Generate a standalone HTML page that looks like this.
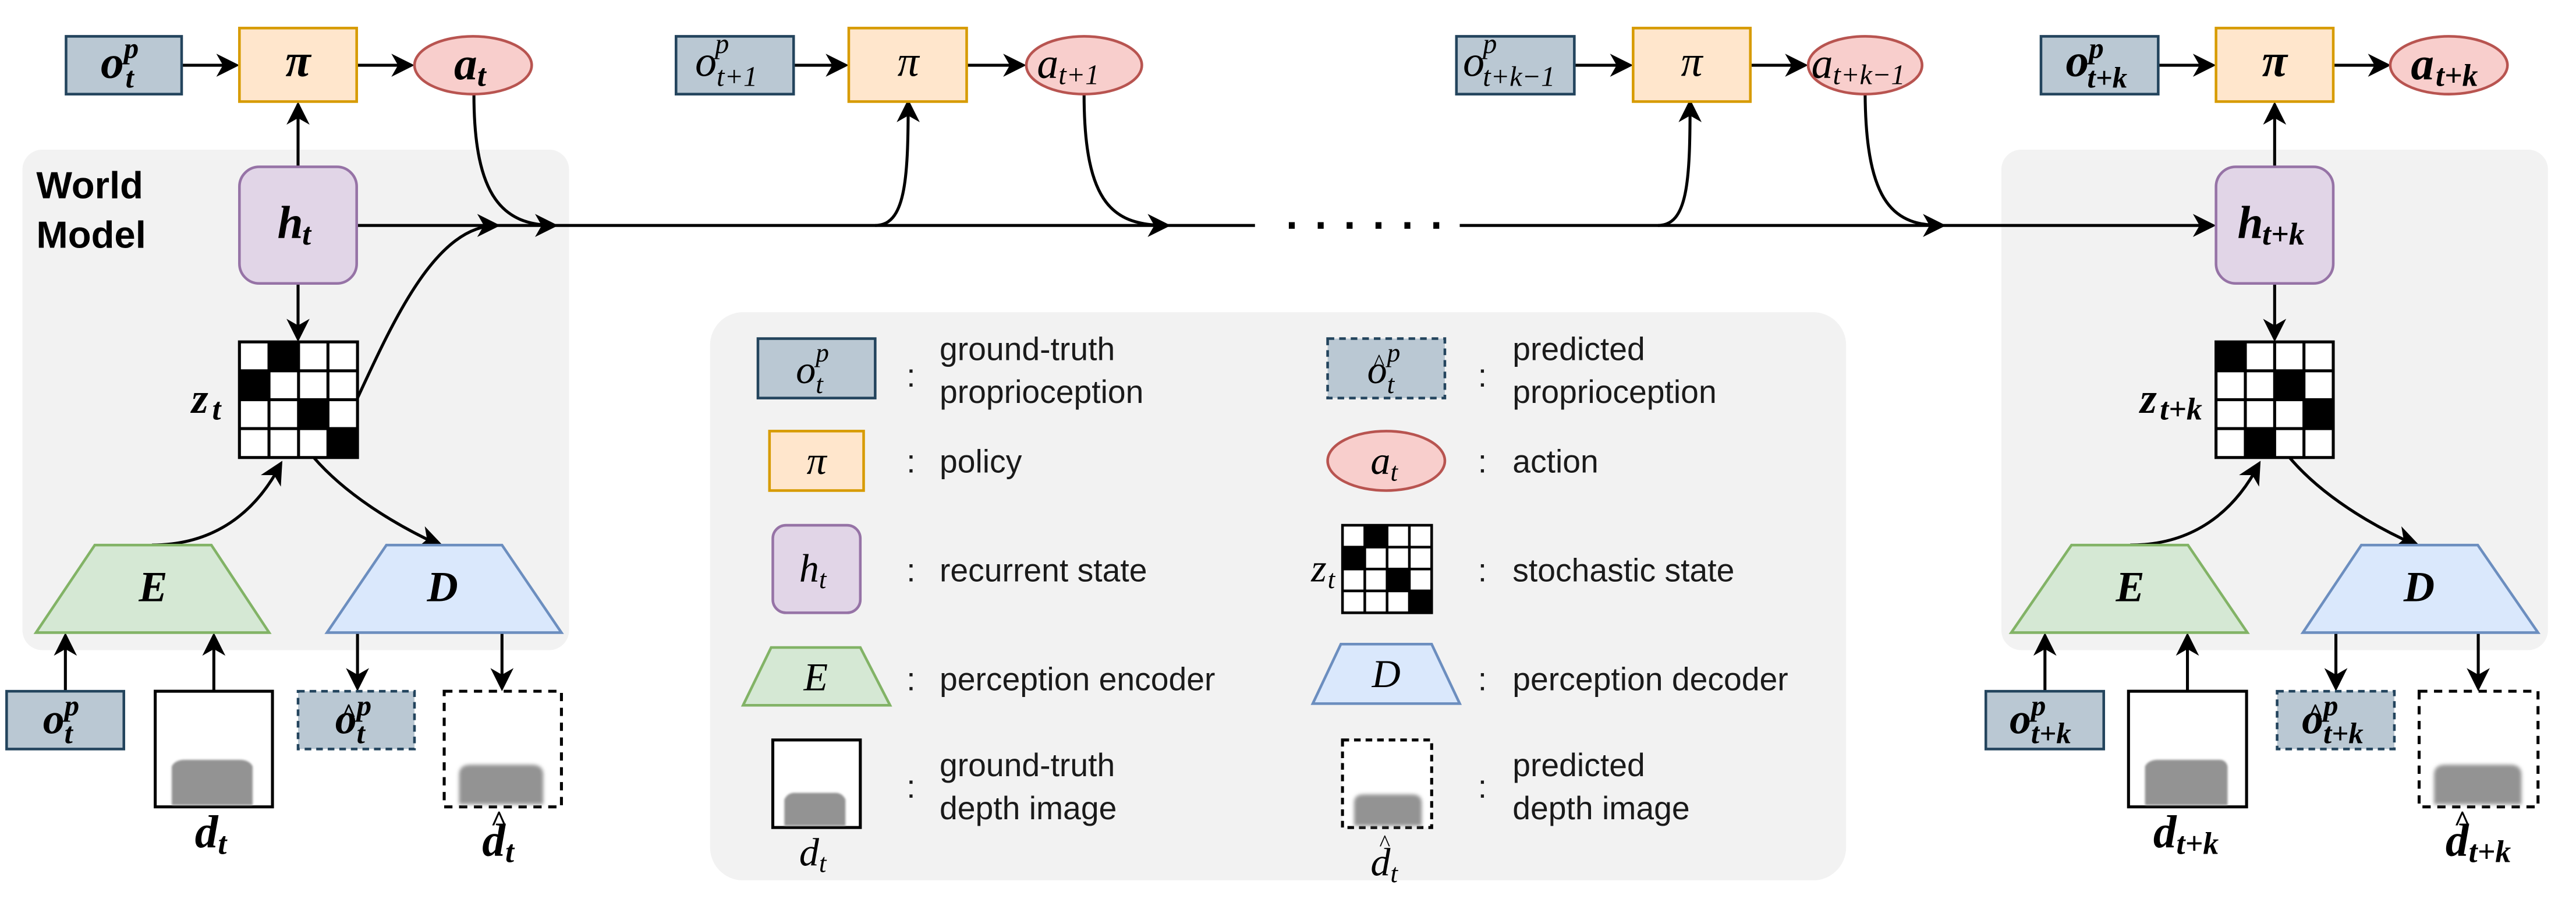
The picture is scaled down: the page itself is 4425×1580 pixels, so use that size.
<!DOCTYPE html>
<html><head><meta charset="utf-8"><style>
html,body{margin:0;padding:0;background:#fff;}
svg{display:block;}
.m{font-family:"Liberation Serif",serif;font-style:italic;}
.s{font-family:"Liberation Sans",sans-serif;fill:#1a1a1a;}
</style></head><body>
<svg width="4425" height="1580" viewBox="0 0 1560 557" preserveAspectRatio="none" xmlns="http://www.w3.org/2000/svg">
<defs>
<polygon id="ar" points="0,0 -14,-7 -10,0 -14,7" fill="#000"/>
<filter id="bl" x="-20%" y="-20%" width="140%" height="140%"><feGaussianBlur stdDeviation="0.7"/></filter>
<filter id="bl2" x="-20%" y="-20%" width="140%" height="140%"><feGaussianBlur stdDeviation="1.1"/></filter>
</defs>

<rect x="13.6" y="90.6" width="331" height="303" rx="12" fill="#f2f2f2"/>
<rect x="1212" y="90.6" width="331" height="303" rx="12" fill="#f2f2f2"/>
<rect x="430" y="189" width="688" height="344" rx="20" fill="#f2f2f2"/>

<text x="22" y="120" font-family="Liberation Sans,sans-serif" font-weight="bold" font-size="23">World</text>
<text x="22" y="150" font-family="Liberation Sans,sans-serif" font-weight="bold" font-size="23">Model</text>

<g stroke="#000" stroke-width="1.8" fill="none">
<line x1="216" y1="136.5" x2="760" y2="136.5"/>
<line x1="884" y1="136.5" x2="1340" y2="136.5"/>
<line x1="110" y1="39.5" x2="143" y2="39.5"/>
<line x1="216" y1="39.5" x2="249" y2="39.5"/>
<line x1="180.5" y1="101" x2="180.5" y2="63"/>
<line x1="180.5" y1="171.6" x2="180.5" y2="205"/>
<path d="M287,57 C287,120 305,136.5 336,136.5"/>
<path d="M216.5,241 C240,190 265,136.5 301,136.5"/>
<path d="M92,330 C130,330 155,310 170,281"/>
<path d="M190,277 C210,300 240,318 266,330"/>
<line x1="39.6" y1="418" x2="39.6" y2="385"/>
<line x1="129.5" y1="418" x2="129.5" y2="385"/>
<line x1="216.5" y1="383" x2="216.5" y2="416"/>
<line x1="304" y1="383" x2="304" y2="416"/>
<line x1="481" y1="39.5" x2="512" y2="39.5"/>
<line x1="585.5" y1="39.5" x2="619" y2="39.5"/>
<path d="M530,136.5 C548,136.5 550,110 550,62"/>
<path d="M656.5,57 C656.5,125 675,136.5 707,136.5"/>
<line x1="953.5" y1="39.5" x2="987" y2="39.5"/>
<line x1="1060" y1="39.5" x2="1093" y2="39.5"/>
<path d="M1004,136.5 C1022,136.5 1023.5,110 1023.5,62"/>
<path d="M1129.5,57 C1130,125 1148,136.5 1176,136.5"/>
<line x1="1307" y1="39.5" x2="1340" y2="39.5"/>
<line x1="1413" y1="39.5" x2="1446" y2="39.5"/>
<line x1="1377.5" y1="101" x2="1377.5" y2="63"/>
<line x1="1377.5" y1="171.6" x2="1377.5" y2="205"/>
<path d="M1290,330 C1328,330 1353,310 1368,281"/>
<path d="M1386.5,277 C1406,300 1436,318 1463,330"/>
<line x1="1238.4" y1="418" x2="1238.4" y2="385"/>
<line x1="1324.7" y1="418" x2="1324.7" y2="385"/>
<line x1="1414.6" y1="383" x2="1414.6" y2="416"/>
<line x1="1500.8" y1="383" x2="1500.8" y2="416"/>
</g>
<g fill="#000">
<rect x="780.5" y="134.5" width="3.6" height="4"/><rect x="798" y="134.5" width="3.6" height="4"/><rect x="815.5" y="134.5" width="3.6" height="4"/><rect x="833" y="134.5" width="3.6" height="4"/><rect x="850.5" y="134.5" width="3.6" height="4"/><rect x="868" y="134.5" width="3.6" height="4"/>
</g>
<use href="#ar" transform="translate(145,39.5)"/>
<use href="#ar" transform="translate(251,39.5)"/>
<use href="#ar" transform="translate(180.5,61.5) rotate(-90)"/>
<use href="#ar" transform="translate(180.5,207) rotate(90)"/>
<use href="#ar" transform="translate(303,136.5)"/>
<use href="#ar" transform="translate(338,136.5)"/>
<use href="#ar" transform="translate(171,279) rotate(-60)"/>
<use href="#ar" transform="translate(268,330) rotate(20)"/>
<use href="#ar" transform="translate(39.6,383) rotate(-90)"/>
<use href="#ar" transform="translate(129.5,383) rotate(-90)"/>
<use href="#ar" transform="translate(216.5,418.5) rotate(90)"/>
<use href="#ar" transform="translate(304,418.5) rotate(90)"/>
<use href="#ar" transform="translate(514,39.5)"/>
<use href="#ar" transform="translate(621.5,39.5)"/>
<use href="#ar" transform="translate(550,60) rotate(-90)"/>
<use href="#ar" transform="translate(709,136.5)"/>
<use href="#ar" transform="translate(989,39.5)"/>
<use href="#ar" transform="translate(1095,39.5)"/>
<use href="#ar" transform="translate(1023.5,60) rotate(-90)"/>
<use href="#ar" transform="translate(1178.5,136.5)"/>
<use href="#ar" transform="translate(1342,136.5)"/>
<use href="#ar" transform="translate(1342,39.5)"/>
<use href="#ar" transform="translate(1448,39.5)"/>
<use href="#ar" transform="translate(1377.5,61.5) rotate(-90)"/>
<use href="#ar" transform="translate(1377.5,207) rotate(90)"/>
<use href="#ar" transform="translate(1369,279) rotate(-60)"/>
<use href="#ar" transform="translate(1465,330) rotate(20)"/>
<use href="#ar" transform="translate(1238.4,383) rotate(-90)"/>
<use href="#ar" transform="translate(1324.7,383) rotate(-90)"/>
<use href="#ar" transform="translate(1414.6,418.5) rotate(90)"/>
<use href="#ar" transform="translate(1500.8,418.5) rotate(90)"/>

<g stroke-width="1.6">
<rect x="40" y="22" width="70" height="35" fill="#bac8d3" stroke="#23445d"/>
<rect x="145" y="17" width="71" height="44.5" fill="#ffe6cc" stroke="#d79b00"/>
<ellipse cx="286.5" cy="39.5" rx="35.5" ry="17.5" fill="#f8cecc" stroke="#b85450"/>
<rect x="145" y="101" width="71" height="70.6" rx="12" fill="#e1d5e7" stroke="#9673a6"/>
<polygon points="57.4,330 128,330 163,383 21.8,383" fill="#d5e8d4" stroke="#82b366"/>
<polygon points="234,330 304,330 340,383 198,383" fill="#dae8fc" stroke="#6c8ebf"/>
<rect x="4" y="418.5" width="71" height="35" fill="#bac8d3" stroke="#23445d"/>
<rect x="94" y="418.5" width="71" height="70" fill="#fff" stroke="#000" stroke-width="1.8"/>
<rect x="180.5" y="418.5" width="70.5" height="35" fill="#bac8d3" stroke="#23445d" stroke-dasharray="4,3"/>
<rect x="269" y="418.5" width="71" height="70" fill="#fff" stroke="#000" stroke-width="1.8" stroke-dasharray="5,4"/>
</g>
<path d="M104,487.5 V464 Q106,460 112,460 H145 Q151,460 153,464 V487.5 Z" fill="#939393" filter="url(#bl)"/>
<path d="M278,487 V469 Q278,463 285,463 H322 Q329,463 329,469 V487 Z" fill="#939393" filter="url(#bl2)"/>

<g stroke-width="1.6">
<rect x="409.4" y="22" width="71.2" height="35" fill="#bac8d3" stroke="#23445d"/>
<rect x="514" y="17" width="71.4" height="44.5" fill="#ffe6cc" stroke="#d79b00"/>
<ellipse cx="656.5" cy="39.5" rx="35" ry="17.5" fill="#f8cecc" stroke="#b85450"/>
<rect x="882" y="22" width="71.4" height="35" fill="#bac8d3" stroke="#23445d"/>
<rect x="989" y="17" width="71" height="44.5" fill="#ffe6cc" stroke="#d79b00"/>
<ellipse cx="1129.5" cy="39.5" rx="34.5" ry="17.5" fill="#f8cecc" stroke="#b85450"/>
</g>

<g stroke-width="1.6">
<rect x="1236" y="22" width="71" height="35" fill="#bac8d3" stroke="#23445d"/>
<rect x="1342" y="17" width="71" height="44.5" fill="#ffe6cc" stroke="#d79b00"/>
<ellipse cx="1483" cy="39.5" rx="35.5" ry="17.5" fill="#f8cecc" stroke="#b85450"/>
<rect x="1342" y="101" width="71" height="70.6" rx="12" fill="#e1d5e7" stroke="#9673a6"/>
<polygon points="1254.5,330 1325,330 1361,383 1218,383" fill="#d5e8d4" stroke="#82b366"/>
<polygon points="1430,330 1500.5,330 1537,383 1394.6,383" fill="#dae8fc" stroke="#6c8ebf"/>
<rect x="1202.6" y="418.5" width="71.4" height="35" fill="#bac8d3" stroke="#23445d"/>
<rect x="1289" y="418.5" width="71.5" height="70" fill="#fff" stroke="#000" stroke-width="1.8"/>
<rect x="1379" y="418.5" width="71" height="35" fill="#bac8d3" stroke="#23445d" stroke-dasharray="4,3"/>
<rect x="1465" y="418.5" width="72" height="70" fill="#fff" stroke="#000" stroke-width="1.8" stroke-dasharray="5,4"/>
</g>
<path d="M1299,487.5 V464 Q1301,460 1307,460 H1344 Q1348,460 1349,464 V487.5 Z" fill="#939393" filter="url(#bl)"/>
<path d="M1474,487 V469 Q1474,463 1481,463 H1520 Q1527,463 1527,469 V487 Z" fill="#939393" filter="url(#bl2)"/>

<g>
<rect x="145" y="207" width="71.5" height="70" fill="#fff"/>
<rect x="162.9" y="207" width="17.9" height="17.5"/>
<rect x="145" y="224.5" width="17.9" height="17.5"/>
<rect x="180.8" y="242" width="17.9" height="17.5"/>
<rect x="198.6" y="259.5" width="17.9" height="17.5"/>
<g stroke="#000" stroke-width="1.8" fill="none">
<rect x="145" y="207" width="71.5" height="70"/>
<path d="M162.9,207V277M180.8,207V277M198.6,207V277M145,224.5H216.5M145,242H216.5M145,259.5H216.5"/>
</g>
<rect x="1342" y="207" width="71" height="70" fill="#fff"/>
<rect x="1342" y="207" width="17.75" height="17.5"/>
<rect x="1377.5" y="224.5" width="17.75" height="17.5"/>
<rect x="1395.25" y="242" width="17.75" height="17.5"/>
<rect x="1359.75" y="259.5" width="17.75" height="17.5"/>
<g stroke="#000" stroke-width="1.8" fill="none">
<rect x="1342" y="207" width="71" height="70"/>
<path d="M1359.75,207V277M1377.5,207V277M1395.25,207V277M1342,224.5H1413M1342,242H1413M1342,259.5H1413"/>
</g>
</g>

<g class="m" font-weight="bold" fill="#000">
<text x="61" y="47" font-size="28">o</text><text x="75" y="35" font-size="18">p</text><text x="76" y="53" font-size="18">t</text>
<text x="180.5" y="46" font-size="28" text-anchor="middle">π</text>
<text x="275" y="48" font-size="28">a</text><text x="289" y="52" font-size="19">t</text>
<text x="168" y="144" font-size="28">h</text><text x="183" y="148" font-size="19">t</text>
<text x="116" y="250" font-size="26">z</text><text x="128.5" y="254" font-size="19">t</text>
<text x="92.7" y="364" font-size="26" text-anchor="middle">E</text>
<text x="268" y="364" font-size="26" text-anchor="middle">D</text>
<text x="26" y="444" font-size="26">o</text><text x="39" y="433" font-size="18">p</text><text x="39" y="450" font-size="18">t</text>
<text x="203" y="444" font-size="26">o</text><text x="211" y="437" font-size="16" text-anchor="middle">^</text><text x="216" y="433" font-size="18">p</text><text x="216" y="450" font-size="18">t</text>
<text x="118" y="513" font-size="28">d</text><text x="132" y="517" font-size="19">t</text>
<text x="292" y="518" font-size="28">d</text><text x="302" y="503" font-size="18" text-anchor="middle">^</text><text x="306" y="522" font-size="19">t</text>
</g>

<g class="m" fill="#000">
<text x="421" y="46" font-size="26">o</text><text x="433" y="32" font-size="17">p</text><text x="434" y="52" font-size="17">t+1</text>
<text x="550" y="46" font-size="26" text-anchor="middle">π</text>
<text x="628" y="47" font-size="26">a</text><text x="641" y="51" font-size="17">t+1</text>
<text x="886" y="46" font-size="26">o</text><text x="898" y="32" font-size="17">p</text><text x="898" y="52" font-size="17">t+k−1</text>
<text x="1024.5" y="46" font-size="26" text-anchor="middle">π</text>
<text x="1097" y="47" font-size="26">a</text><text x="1110" y="51" font-size="17">t+k−1</text>
</g>

<g class="m" font-weight="bold" fill="#000">
<text x="1251" y="46" font-size="28">o</text><text x="1265" y="35" font-size="18">p</text><text x="1264" y="53" font-size="18">t+k</text>
<text x="1377.5" y="46" font-size="28" text-anchor="middle">π</text>
<text x="1460" y="48" font-size="28">a</text><text x="1475" y="52" font-size="19">t+k</text>
<text x="1355" y="144" font-size="28">h</text><text x="1370" y="148" font-size="19">t+k</text>
<text x="1296" y="250" font-size="26">z</text><text x="1308" y="254" font-size="19">t+k</text>
<text x="1290" y="364" font-size="26" text-anchor="middle">E</text>
<text x="1465" y="364" font-size="26" text-anchor="middle">D</text>
<text x="1217" y="444" font-size="26">o</text><text x="1230" y="433" font-size="18">p</text><text x="1230" y="450" font-size="18">t+k</text>
<text x="1394" y="444" font-size="26">o</text><text x="1402" y="437" font-size="16" text-anchor="middle">^</text><text x="1407" y="433" font-size="18">p</text><text x="1407" y="450" font-size="18">t+k</text>
<text x="1304" y="513" font-size="28">d</text><text x="1318" y="517" font-size="19">t+k</text>
<text x="1481" y="518" font-size="28">d</text><text x="1491" y="503" font-size="18" text-anchor="middle">^</text><text x="1495" y="522" font-size="19">t+k</text>
</g>

<g stroke-width="1.6">
<rect x="459" y="205" width="71" height="36" fill="#bac8d3" stroke="#23445d"/>
<rect x="804" y="205" width="71" height="36" fill="#bac8d3" stroke="#23445d" stroke-dasharray="4,3"/>
<rect x="466" y="261" width="57" height="36" fill="#ffe6cc" stroke="#d79b00"/>
<ellipse cx="839.5" cy="279" rx="35.5" ry="18" fill="#f8cecc" stroke="#b85450"/>
<rect x="468" y="318" width="53" height="53" rx="8" fill="#e1d5e7" stroke="#9673a6"/>
<polygon points="467,392 521,392 539,427 450,427" fill="#d5e8d4" stroke="#82b366"/>
<polygon points="812,390 867,390 884,426 795,426" fill="#dae8fc" stroke="#6c8ebf"/>
<rect x="468" y="448" width="53" height="53" fill="#fff" stroke="#000" stroke-width="1.8"/>
<rect x="813" y="448" width="54" height="53" fill="#fff" stroke="#000" stroke-width="1.8" stroke-dasharray="4,3"/>
</g>
<path d="M475,500 V484 Q477,480 481,480 H506 Q510,480 512,484 V500 Z" fill="#939393" filter="url(#bl)"/>
<path d="M820,500 V486 Q820,481 826,481 H855 Q861,481 861,486 V500 Z" fill="#939393" filter="url(#bl2)"/>
<rect x="813" y="318" width="54" height="53" fill="#fff"/>
<rect x="826.5" y="318" width="13.5" height="13.25"/>
<rect x="813" y="331.25" width="13.5" height="13.25"/>
<rect x="840" y="344.5" width="13.5" height="13.25"/>
<rect x="853.5" y="357.75" width="13.5" height="13.25"/>
<g stroke="#000" stroke-width="1.6" fill="none">
<rect x="813" y="318" width="54" height="53"/>
<path d="M826.5,318V371M840,318V371M853.5,318V371M813,331.25H867M813,344.5H867M813,357.75H867"/>
</g>

<g class="m" fill="#000">
<text x="482" y="232" font-size="24">o</text><text x="494" y="219" font-size="16">p</text><text x="494" y="238" font-size="16">t</text>
<text x="828" y="232" font-size="24">o</text><text x="834.5" y="224" font-size="14" text-anchor="middle">^</text><text x="840" y="219" font-size="16">p</text><text x="840" y="238" font-size="16">t</text>
<text x="494.5" y="287" font-size="24" text-anchor="middle">π</text>
<text x="830" y="287" font-size="24">a</text><text x="842" y="291" font-size="16">t</text>
<text x="484" y="352" font-size="24">h</text><text x="496" y="356" font-size="16">t</text>
<text x="794" y="352" font-size="24">z</text><text x="804" y="356" font-size="16">t</text>
<text x="494" y="418" font-size="24" text-anchor="middle">E</text>
<text x="839.5" y="416" font-size="24" text-anchor="middle">D</text>
<text x="484" y="524" font-size="24">d</text><text x="496" y="528" font-size="16">t</text>
<text x="830" y="530" font-size="24">d</text><text x="838" y="515" font-size="14" text-anchor="middle">^</text><text x="842" y="534" font-size="16">t</text>
</g>

<g class="s" font-size="19.5">
<text x="549" y="234">:</text><text x="569" y="218">ground-truth</text><text x="569" y="244">proprioception</text>
<text x="895" y="234">:</text><text x="916" y="218">predicted</text><text x="916" y="244">proprioception</text>
<text x="549" y="286">:</text><text x="569" y="286">policy</text>
<text x="895" y="286">:</text><text x="916" y="286">action</text>
<text x="549" y="352">:</text><text x="569" y="352">recurrent state</text>
<text x="895" y="352">:</text><text x="916" y="352">stochastic state</text>
<text x="549" y="418">:</text><text x="569" y="418">perception encoder</text>
<text x="895" y="418">:</text><text x="916" y="418">perception decoder</text>
<text x="549" y="483">:</text><text x="569" y="470">ground-truth</text><text x="569" y="496">depth image</text>
<text x="895" y="483">:</text><text x="916" y="470">predicted</text><text x="916" y="496">depth image</text>
</g>
</svg>
</body></html>
